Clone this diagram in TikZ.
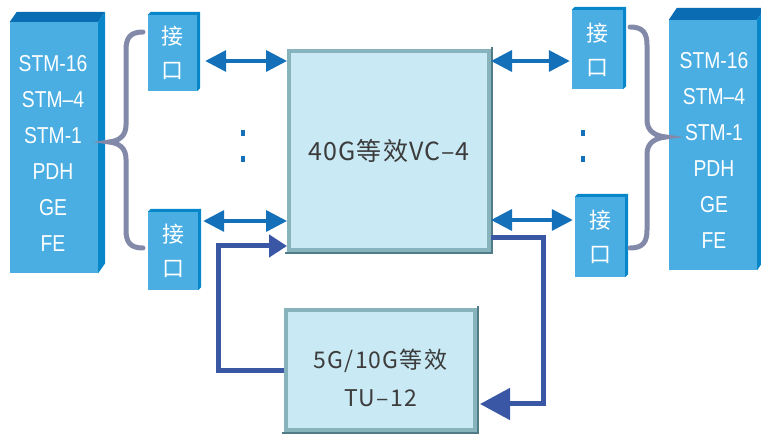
\documentclass[tikz,border=0pt]{standalone}
\usepackage{fontspec}
\setmainfont{Liberation Sans}
\newfontfamily\cjk{Noto Sans CJK SC}
\newfontfamily\cjkwide[LetterSpace=5]{Noto Sans CJK SC}
\newfontfamily\narrowsans[FakeStretch=0.84]{Liberation Sans}
\usetikzlibrary{arrows.meta}

\definecolor{frontblue}{HTML}{4AAEE3}
\definecolor{topblue}{HTML}{0A6DB3}
\definecolor{sideblue}{HTML}{0787C9}
\definecolor{arrowblue}{HTML}{1471B9}
\definecolor{loopblue}{HTML}{3A57A6}
\definecolor{bracegray}{HTML}{8389A8}
\definecolor{vcfill}{HTML}{C9E9F4}
\definecolor{vcedge}{HTML}{86B3BC}
\definecolor{vcdark}{HTML}{4F7C86}
\definecolor{textgray}{HTML}{3C3C3C}

\begin{document}
\begin{tikzpicture}[x=1pt, y=1pt,
    bigbox/.style={fill=frontblue, inner sep=0pt, minimum width=88pt},
    portbox/.style={fill=frontblue, inner sep=0pt, text=white, align=center,
      font=\cjk\fontsize{22}{34}\selectfont},
    stacktext/.style={text=white, align=center, inner sep=0pt,
      font=\narrowsans\fontsize{23}{36}\selectfont},
    vcbox/.style={fill=vcfill, draw=vcedge, line width=4pt, inner sep=0pt,
      text=textgray, align=center},
    biarrow/.style={arrowblue, line width=3.5pt,
      {Triangle[length=21pt,width=21pt]}-{Triangle[length=21pt,width=21pt]}},
    looparrow/.style={loopblue, line width=5pt},
    bracepath/.style={bracegray, line width=5pt, line cap=round}]
  \useasboundingbox (0,0) rectangle (761,434);

  % Signal stacks
  \node[bigbox, minimum height=251pt] (stackL) at (54,286.5) {};
  \node[bigbox, minimum height=250pt] (stackR) at (713,289) {};
  \foreach \n/\dx/\dy in {stackL/7/10, stackR/8/12} {
      \fill[topblue] (\n.north west) -- ++(\dx,\dy) -- ([shift={(\dx,\dy)}]\n.north east) -- (\n.north east) -- cycle;
      \fill[sideblue] (\n.north east) -- ++(\dx,\dy) -- ([shift={(\dx,\dy)}]\n.south east) -- (\n.south east) -- cycle;
    }
  \node[stacktext] (listL) at (53,281) {STM-16\\STM–4\\STM-1\\PDH\\GE\\FE};
  \node[stacktext] (listR) at (714,284) {STM-16\\STM–4\\STM-1\\PDH\\GE\\FE};

  % Interfaces
  \node[portbox, minimum width=49pt, minimum height=76pt] (ifL1) at (172.5,381) {接\\口};
  \node[portbox, minimum width=50pt, minimum height=78pt] (ifL2) at (173,183) {接\\口};
  \node[portbox, minimum width=51pt, minimum height=79pt] (ifR1) at (597.5,384.5) {接\\口};
  \node[portbox, minimum width=50pt, minimum height=80pt] (ifR2) at (600,197) {接\\口};
  \foreach \n in {ifL1,ifL2,ifR1,ifR2} {
      \fill[sideblue] (\n.north west) -- ++(3,3) -- ([shift={(3,3)}]\n.north east) -- ([shift={(3,3)}]\n.south east) -- (\n.south east) -- (\n.north east) -- cycle;
    }

  % Braces
  \draw[bracepath] (143,402) .. controls (130,402) and (126,396) .. (126,384) -- (126,309)
    .. controls (126,298) and (119,293) .. (109,292) .. controls (119,291) and (126,286) .. (126,275)
    -- (126,204) .. controls (126,192) and (130,186) .. (143,186);
  \draw[bracepath] (630,407) .. controls (643,407) and (647,401) .. (647,389) -- (647,314)
    .. controls (647,303) and (655,298) .. (666,297) .. controls (655,296) and (647,291) .. (647,280)
    -- (647,204) .. controls (647,192) and (643,186) .. (630,186);

  % Dots between interfaces
  \foreach \x in {243,583} {
      \fill[arrowblue] (\x-2,298) rectangle (\x+2,304);
      \fill[arrowblue] (\x-2,272) rectangle (\x+2,278);
    }

  % Cross-connect
  \node[vcbox, minimum width=200pt, minimum height=199pt,
    font=\cjkwide\fontsize{25}{30}\selectfont] (vc4) at (389,283.5) {40G等效VC–4};
  \draw[vcdark, line width=2pt] ([shift={(1,2)}]vc4.north east) -- ([shift={(1,-1)}]vc4.south east) -- ([shift={(-2,-1)}]vc4.south west);
  \node[vcbox, minimum width=189pt, minimum height=120pt,
    font=\cjkwide\fontsize{23}{38}\selectfont] (tu12) at (380.5,63.5) {\rule{0pt}{34pt}5G/10G等效\\TU–12};
  \draw[vcdark, line width=2pt] ([shift={(1,2)}]tu12.north east) -- ([shift={(1,-1)}]tu12.south east) -- ([shift={(-2,-1)}]tu12.south west);

  % Interface links
  \draw[biarrow] ([shift={(8,-8)}]ifL1.east) -- ([yshift=-8pt]ifL1.east -| vc4.west);
  \draw[biarrow] ([shift={(5,30)}]ifL2.east) -- ([yshift=30pt]ifL2.east -| vc4.west);
  \draw[biarrow] ([yshift=-11.5pt]ifR1.west -| vc4.east) -- ([shift={(-2,-11.5)}]ifR1.west);
  \draw[biarrow] ([yshift=17pt]ifR2.west -| vc4.east) -- ([shift={(-2,17)}]ifR2.west);

  % Low-order loop
  \coordinate (turnL) at (218.5,188);
  \coordinate (turnR) at (543.5,196);
  \coordinate (turnR2) at (543.5,30);
  \draw[looparrow, -{Triangle[length=18pt,width=22pt]}] (tu12.west) -| (turnL) -- (turnL -| vc4.west);
  \draw[looparrow, -{Triangle[length=30pt,width=31pt]}] (turnR -| vc4.east) -- (turnR) -- (turnR2) -- ([xshift=3pt]turnR2 -| tu12.east);
\end{tikzpicture}
\end{document}
